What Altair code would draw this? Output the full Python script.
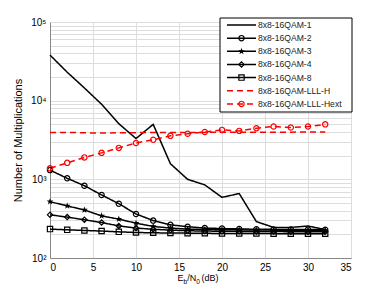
import altair as alt
import pandas as pd

# ---------------- data ----------------
x_db = list(range(0, 33, 2))
s1 = [38000, 23000, 14500, 9000, 5100, 3300, 5000, 1580, 1000, 850, 590, 660, 290, 245, 245, 255, 230]
s2 = [1310, 1030, 830, 633, 490, 363, 299, 264, 250, 240, 237, 234, 232, 231, 230, 230, 229]
s3 = [520, 459, 408, 343, 312, 277, 252, 240, 233, 230, 229, 228, 227, 226, 226, 226, 225]
s4 = [354, 331, 306, 282, 256, 240, 232, 226, 222, 220, 219, 218, 217, 217, 216, 216, 216]
s8 = [233, 228, 224, 220, 215, 211, 209, 208, 207, 206, 205, 205, 205, 204, 204, 204, 204]
lllh = [3950, 3950, 3900, 3880, 3900, 3920, 3950, 3950, 3950, 3950, 3970, 3970, 3970, 3980, 3980, 3990, 4000]
hext = [1380, 1620, 1900, 2170, 2510, 2900, 3180, 3570, 3800, 4000, 4250, 4130, 4470, 4690, 4560, 4690, 5000]

names = ["8x8-16QAM-1", "8x8-16QAM-2", "8x8-16QAM-3", "8x8-16QAM-4",
         "8x8-16QAM-8", "8x8-16QAM-LLL-H", "8x8-16QAM-LLL-Hext"]
series = [s1, s2, s3, s4, s8, lllh, hext]
colors = ["#000000"] * 5 + ["#ff0000"] * 2
dashes = [[1, 0]] * 5 + [[6, 4]] * 2

STAR = ("M0,-1L0.235,-0.324L0.951,-0.309L0.380,0.124L0.588,0.809L0,0.4"
        "L-0.588,0.809L-0.380,0.124L-0.951,-0.309L-0.235,-0.324Z")
marker_of = {"8x8-16QAM-2": "circle", "8x8-16QAM-3": STAR, "8x8-16QAM-4": "diamond",
             "8x8-16QAM-8": "square", "8x8-16QAM-LLL-Hext": "circle"}

y_ticks = [m * 10 ** k for k in range(2, 5) for m in range(1, 10)] + [100000]
x_ticks = list(range(0, 36, 5))

rows = []
for n, vals in zip(names, series):
    for xi, v in zip(x_db, vals):
        rows.append({"series": n, "x": xi, "y": v})
df = pd.DataFrame(rows)

FONT = "Liberation Sans"
label_expr = ("datum.value == 100 ? '10\u00b2' : datum.value == 1000 ? '10\u00b3' : "
              "datum.value == 10000 ? '10\u2074' : datum.value == 100000 ? '10\u2075' : ''")

xenc = alt.X("x:Q", scale=alt.Scale(domain=[0, 35], nice=False, zero=False),
             axis=alt.Axis(values=x_ticks, title=None, grid=True, ticks=False,
                           labelPadding=4, format="d"))
yenc = alt.Y("y:Q", scale=alt.Scale(type="log", domain=[100, 100000], nice=False),
             axis=alt.Axis(values=y_ticks, labelExpr=label_expr, title="Number of Multiplications",
                           grid=True, ticks=False, labelOverlap=False, labelPadding=4,
                           titlePadding=7, titleFontWeight="normal", labelFontSize=10))

base = alt.Chart(df)
lines = base.mark_line(strokeWidth=1.5).encode(
    x=xenc, y=yenc,
    color=alt.Color("series:N", scale=alt.Scale(domain=names, range=colors), legend=None),
    strokeDash=alt.StrokeDash("series:N", scale=alt.Scale(domain=names, range=dashes), legend=None),
    detail="series:N",
)

hollow_names = [n for n in marker_of if marker_of[n] != STAR]
points = base.transform_filter(
    alt.FieldOneOfPredicate(field="series", oneOf=hollow_names)
).mark_point(filled=False, size=28, strokeWidth=1.2, opacity=1).encode(
    x="x:Q", y="y:Q",
    color=alt.Color("series:N", scale=alt.Scale(domain=names, range=colors), legend=None),
    shape=alt.Shape("series:N", scale=alt.Scale(domain=hollow_names,
                                                range=[marker_of[n] for n in hollow_names]),
                    legend=None),
)
stars = base.transform_filter(alt.datum.series == "8x8-16QAM-3").mark_point(
    filled=True, size=50, shape=STAR, color="black", opacity=1
).encode(x="x:Q", y="y:Q")

# ---------------- x title with subscripts ----------------
def txt(s, x, y, size):
    return alt.Chart(pd.DataFrame({"t": [s]})).mark_text(
        align="left", baseline="alphabetic", font=FONT, fontSize=size, color="black"
    ).encode(x=alt.value(x), y=alt.value(y), text="t:N")

xt = [txt("E", 127.5, 259, 9), txt("b", 133.6, 262, 6.5), txt("/N", 137.2, 259, 9),
      txt("0", 146.2, 262, 6.5), txt("(dB)", 151.5, 259, 9)]

# ---------------- legend ----------------
lg_left, lg_right, lg_top, lg_bottom = 170, 302, -4, 90
legend_layers = [
    alt.Chart(pd.DataFrame({"a": [0]})).mark_rect(fill="white", stroke="black", strokeWidth=1).encode(
        x=alt.value(lg_left), x2=alt.value(lg_right), y=alt.value(lg_top), y2=alt.value(lg_bottom))
]
for i, n in enumerate(names):
    yy = 3 + i * 13.15
    one = alt.Chart(pd.DataFrame({"t": [n]}))
    legend_layers.append(one.mark_rule(color=colors[i], strokeWidth=1.5, strokeDash=dashes[i]).encode(
        x=alt.value(177), x2=alt.value(206), y=alt.value(yy)))
    if n in marker_of:
        if marker_of[n] == STAR:
            legend_layers.append(one.mark_point(filled=True, size=50, shape=STAR, color="black", opacity=1)
                                 .encode(x=alt.value(191.5), y=alt.value(yy)))
        else:
            legend_layers.append(one.mark_point(filled=False, size=28, strokeWidth=1.2, shape=marker_of[n],
                                                color=colors[i], opacity=1)
                                 .encode(x=alt.value(191.5), y=alt.value(yy)))
    legend_layers.append(one.mark_text(align="left", baseline="middle", font=FONT, fontSize=8.6,
                                       color="#222222").encode(x=alt.value(208), y=alt.value(yy), text="t:N"))

chart = alt.layer(lines, points, stars, *xt, *legend_layers).properties(
    width=301, height=236,
    padding={"left": 42, "top": 14, "right": 20, "bottom": 40},
    autosize="none",
).configure_view(stroke="black", strokeWidth=1).configure_axis(
    labelFont=FONT, labelFontSize=9, labelColor="black", titleFont=FONT, titleFontSize=8.6,
    titleFontWeight="normal", titleColor="#222222", domainColor="black", domainWidth=1,
    gridColor="#8a8a8a", gridDash=[1, 3], gridWidth=0.8, gridOpacity=1,
).configure(background="white")

chart.save("out.html", embed_options={"renderer": "svg", "actions": False})
